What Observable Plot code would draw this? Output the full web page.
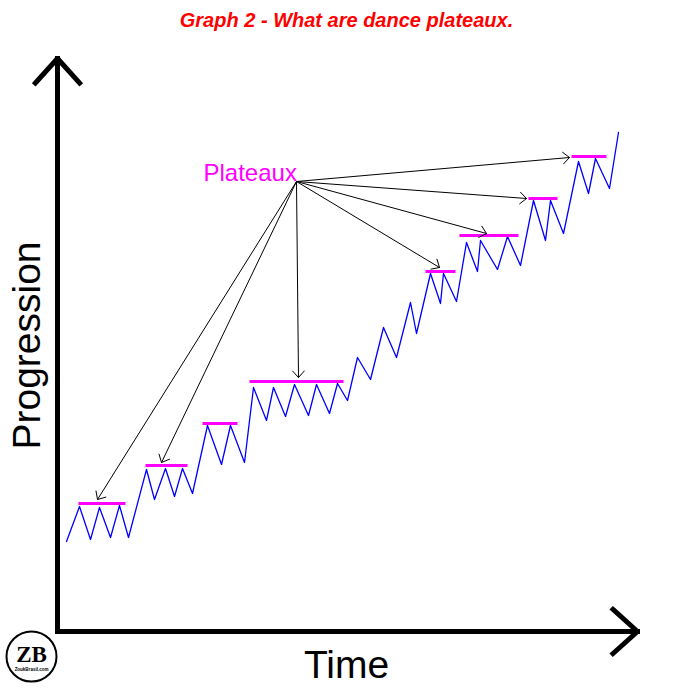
<!DOCTYPE html>
<html>
<head>
<meta charset="utf-8">
<script src="https://cdn.jsdelivr.net/npm/d3@7"></script>
<script src="https://cdn.jsdelivr.net/npm/@observablehq/plot@0.6"></script>
<style>
  html, body { margin: 0; padding: 0; background: #fff; }
</style>
</head>
<body>
<div id="chart"></div>
<script>
// Zigzag progression line: time, progression
const lineTime = [9,22,33,42,53,62,71,89,97,108,117,125,135,150,164,173,187,196,209,216,228,237,251,259,272,280,290,300,313,326,339,353,359,373,383,386,399,409,420,423,440,450,463,476,488,493,506,521,531,538,552,561];
const lineProg = [90,125,92,124,94,126,94,162,132,163,135,163,138,206,167,206,169,244,211,244,215,247,216,247,218,248,231,274,252,304,274,329,298,358,328,358,330,389,360,391,362,395,366,431,391,431,398,470,438,473,443,499];

// Plateau levels
const plateauStart = [21,88,145,192,368,402,471,514];
const plateauEnd   = [68,130,180,286,398,461,500,549];
const plateauLevel = [128,166,208,250,360,396,433,475];

// Annotation arrows from the "Plateaux" label
const arrowOrigin = {t: 239, p: 450};
const arrowTipTime = [40,104,241,382,429,469,512];
const arrowTipProg = [132,169,254,364,398,433,474];

// Texts
const titleText = "Graph 2 - What are dance plateaux.";
const yLabel = "Progression";
const xLabel = "Time";
const annotationLabel = "Plateaux";
const logoText = "ZB";
const logoSub = "ZoukBrasil.com";

const line = lineTime.map((t, i) => ({t, p: lineProg[i]}));
const plateaux = plateauStart.map((t1, i) => ({t1, t2: plateauEnd[i], p: plateauLevel[i]}));
const arrows = arrowTipTime.map((t, i) => ({t1: arrowOrigin.t, p1: arrowOrigin.p, t2: t, p2: arrowTipProg[i]}));
const axes = [
  {t1: 0, p1: 0, t2: 0, p2: 573},
  {t1: 0, p1: 0, t2: 580, p2: 0}
];

const chart = Plot.plot({
  width: 693,
  height: 693,
  marginLeft: 57,
  marginRight: 56,
  marginTop: 58,
  marginBottom: 62,
  x: {domain: [0, 580], axis: null},
  y: {domain: [0, 573], axis: null},
  style: {fontFamily: "Liberation Sans, Arial, sans-serif", overflow: "visible", background: "#fff"},
  marks: [
    Plot.arrow(axes, {x1: "t1", y1: "p1", x2: "t2", y2: "p2", stroke: "black", strokeWidth: 5, headLength: 9.9, headAngle: 84, strokeLinecap: "square", strokeLinejoin: "miter"}),
    Plot.line(line, {x: "t", y: "p", stroke: "#0000ff", strokeWidth: 1.3}),
    Plot.link(plateaux, {x1: "t1", x2: "t2", y1: "p", y2: "p", stroke: "#ff00ff", strokeWidth: 3}),
    Plot.arrow(arrows, {x1: "t1", y1: "p1", x2: "t2", y2: "p2", stroke: "black", strokeWidth: 1, headLength: 13, headAngle: 84}),
    Plot.text([titleText], {x: 289, y: 605, text: d => d, fill: "#ff0000", fontSize: 20, fontWeight: "bold", fontStyle: "italic", lineAnchor: "bottom"}),
    Plot.text([annotationLabel], {x: 146, y: 451, text: d => d, fill: "#ff00ff", fontSize: 24, textAnchor: "start", lineAnchor: "bottom"}),
    Plot.text([yLabel], {x: -30, y: 286, text: d => d, fill: "black", fontSize: 39, rotate: -90, lineAnchor: "middle"}),
    Plot.text([xLabel], {x: 289, y: -46, text: d => d, fill: "black", fontSize: 39, lineAnchor: "bottom"}),
    Plot.dot([{t: -26, p: -25}], {x: "t", y: "p", r: 25, stroke: "black", strokeWidth: 2, fill: "white"}),
    Plot.text([logoText], {x: -26, y: -30, text: d => d, fill: "black", fontSize: 23, fontWeight: "bold", fontFamily: "Liberation Serif, serif", lineAnchor: "bottom"}),
    Plot.text([logoSub], {x: -26, y: -39.5, text: d => d, fill: "black", fontSize: 4.5, fontWeight: "bold", lineAnchor: "bottom"})
  ]
});
document.getElementById("chart").appendChild(chart);
</script>
</body>
</html>
